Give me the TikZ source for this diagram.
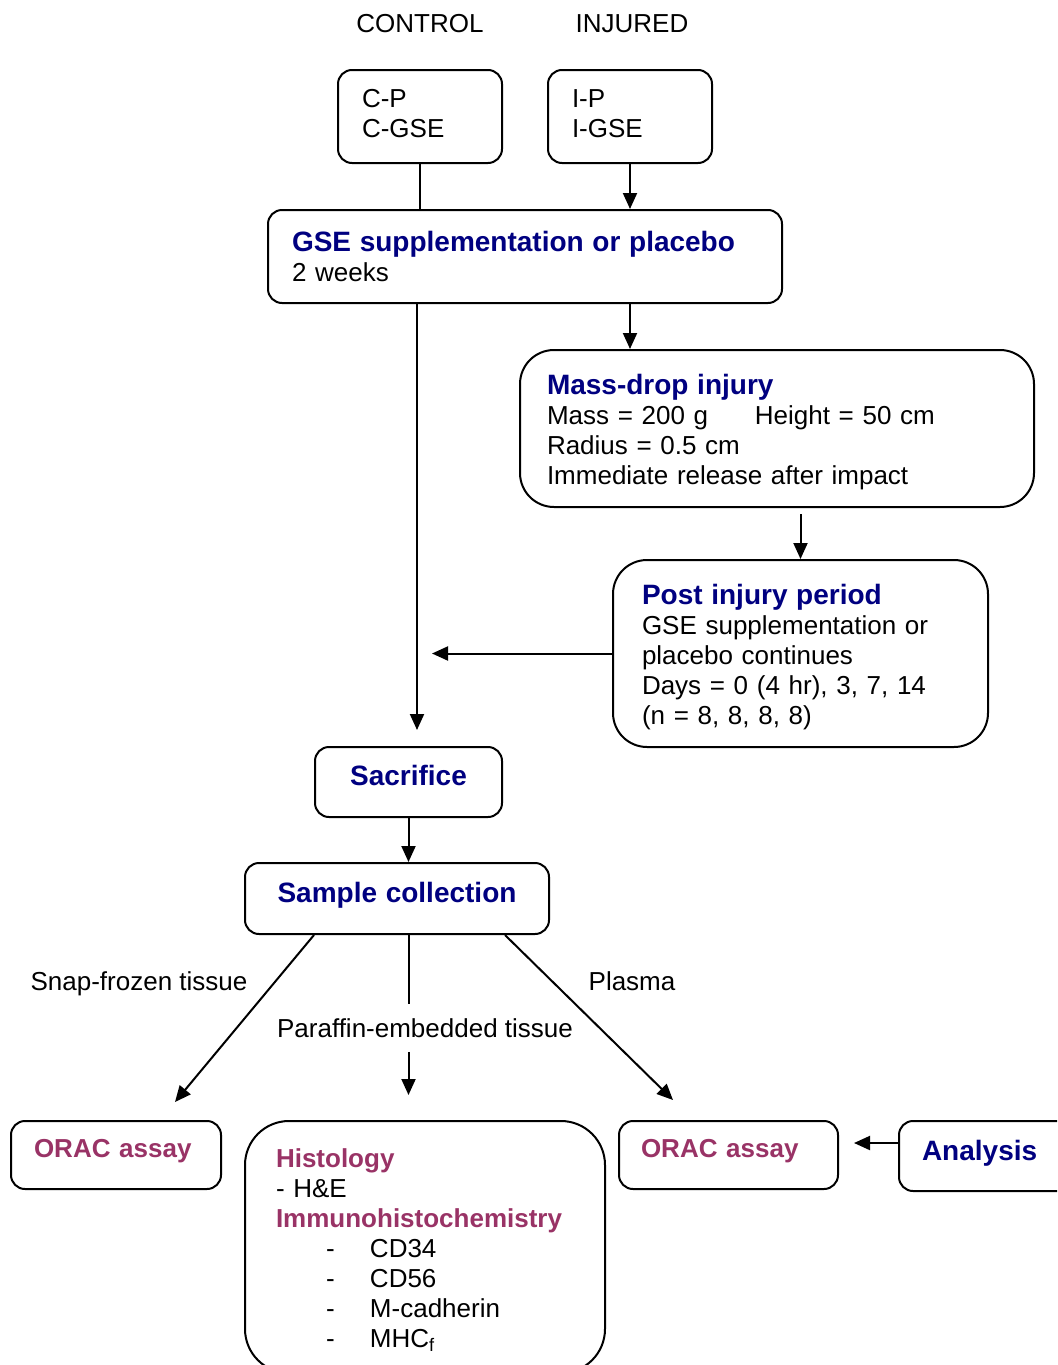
\documentclass[tikz,border=0pt]{standalone}
\usepackage{fontspec}
\setmainfont{Liberation Sans}
\usetikzlibrary{positioning,calc,arrows.meta}
\definecolor{ttlblue}{RGB}{0,0,128}
\definecolor{ttlplum}{RGB}{153,51,102}
\newcommand{\bodyfont}{\fontsize{13}{15}\selectfont}
\newcommand{\ttl}[1]{{\fontsize{14}{15}\selectfont\bfseries\color{ttlblue}#1}}
\newcommand{\ttp}[1]{{\fontsize{13}{15}\selectfont\bfseries\color{ttlplum}#1}}
\newcommand{\itm}[1]{\makebox[47pt][l]{\hspace{25pt}-}#1}
\newcommand{\up}{\rule[-3pt]{0pt}{0pt}}
\newcommand{\dn}[1]{\rule{0pt}{#1}}
\tikzset{
  wire/.style  = {line width=1pt},
  awire/.style = {line width=1pt, -{Triangle[length=8pt,width=7pt]}},
  sbox/.style  = {draw, line width=1pt, rounded corners=7pt, anchor=north west,
                  align=left, inner ysep=0pt, font=\bodyfont},
  lbox/.style  = {sbox, rounded corners=17pt},
  cbox/.style  = {sbox, align=center, inner xsep=0pt, text depth=6.5pt},
  lbl/.style   = {font=\bodyfont, inner sep=1pt},
}
\begin{document}
\begin{tikzpicture}[x=0.5pt, y=-0.5pt]
  \useasboundingbox (0,0) rectangle (1057,1365);
  \clip (0,0) rectangle (1057,1365);
  % groups
  \node[lbl] (ctl) at (420,24) {CONTROL};
  \node[lbl] (inj) at (632,24) {INJURED};
  \node[sbox, inner xsep=12pt, text width=58pt, minimum height=46.5pt] (cp) at (337,69) {C-P\\C-GSE\up};
  \node[sbox, inner xsep=12pt, text width=58pt, minimum height=46.5pt] (ip) at (547,69) {I-P\\I-GSE\up};
  \node[sbox, inner xsep=12pt, text width=233pt, minimum height=46.5pt] (gse) at (267,209)
    {\ttl{GSE supplementation or placebo}\\2 weeks};
  \node[lbox, inner xsep=13.5pt, text width=230pt, minimum height=78.5pt] (mass) at (519,349)
    {\dn{13.5pt}\ttl{Mass-drop injury}\\Mass = 200 g\hspace{1.8em}Height = 50 cm\\Radius = 0.5 cm\\Immediate release after impact};
  \node[lbox, inner xsep=14.5pt, text width=158.5pt, minimum height=93.5pt] (post) at (612,559)
    {\dn{14pt}\ttl{Post injury period}\\GSE supplementation or\\placebo continues\\Days = 0 (4 hr), 3, 7, 14\\(n = 8, 8, 8, 8)};
  \node[cbox, text width=93.5pt, minimum height=35pt] (sac) at (314,746) {\ttl{Sacrifice}};
  \node[cbox, text width=152pt, minimum height=35.5pt] (samp) at (244,862) {\ttl{Sample collection}};
  % outputs
  \node[sbox, inner xsep=11.5pt, text width=82pt, minimum height=34pt, text depth=6.5pt] (orac1) at (10,1120) {\ttp{ORAC assay}};
  \node[sbox, rounded corners=22pt, inner xsep=15.5pt, text width=149pt, minimum height=126pt] (hist) at (244,1120)
    {\dn{12.5pt}\ttp{Histology}\\- H\&E\\\ttp{Immunohistochemistry}\\\itm{CD34}\\\itm{CD56}\\\itm{M-cadherin}\\\itm{MHC\textsubscript{f}}};
  \node[sbox, inner xsep=11pt, text width=87.5pt, minimum height=34pt, text depth=6.5pt] (orac2) at (618,1120) {\ttp{ORAC assay}};
  \node[sbox, inner xsep=11.5pt, text width=70pt, minimum height=35pt, text depth=5.5pt] (ana) at (898,1120) {\ttl{Analysis}};
  \node[lbl] (snap) at (139,984) {Snap-frozen tissue};
  \node[lbl] (plas) at (632,981) {Plasma};
  \node[lbl, inner ysep=7pt] (para) at (425,1028) {Paraffin-embedded tissue};
  \coordinate (sacin) at (417,730);
  \coordinate (postout) at (432,653);
  \coordinate (snapend) at (175,1102);
  \coordinate (plasend) at (673,1100);
  \coordinate (anain) at (898,1143);
  % connectors
  \draw[wire] (cp.south) -- (cp.south |- gse.north);
  \draw[awire] (ip.south) -- (ip.south |- gse.north);
  \draw[awire] (sacin |- gse.south) -- (sacin);
  \draw[awire] (ip.south |- gse.south) -- (ip.south |- mass.north);
  \draw[awire] ($(post.north |- mass.south)+(0,6)$) -- (post.north);
  \draw[awire] (post.west) -- (post.west -| postout);
  \draw[awire] (sac.south) -- (sac.south |- samp.north);
  \draw[awire] ($(samp.south west)+(70,0)$) -- (snapend);
  \draw[wire] (sac.south |- samp.south) -- (sac.south |- para.north);
  \draw[awire] (sac.south |- para.south) -- ($(sac.south |- hist.north)+(0,-25)$);
  \draw[awire] ($(samp.south west)+(261,0)$) -- (plasend);
  \draw[awire] (anain) -- ($(orac2.east |- anain)+(15,0)$);
\end{tikzpicture}
\end{document}
